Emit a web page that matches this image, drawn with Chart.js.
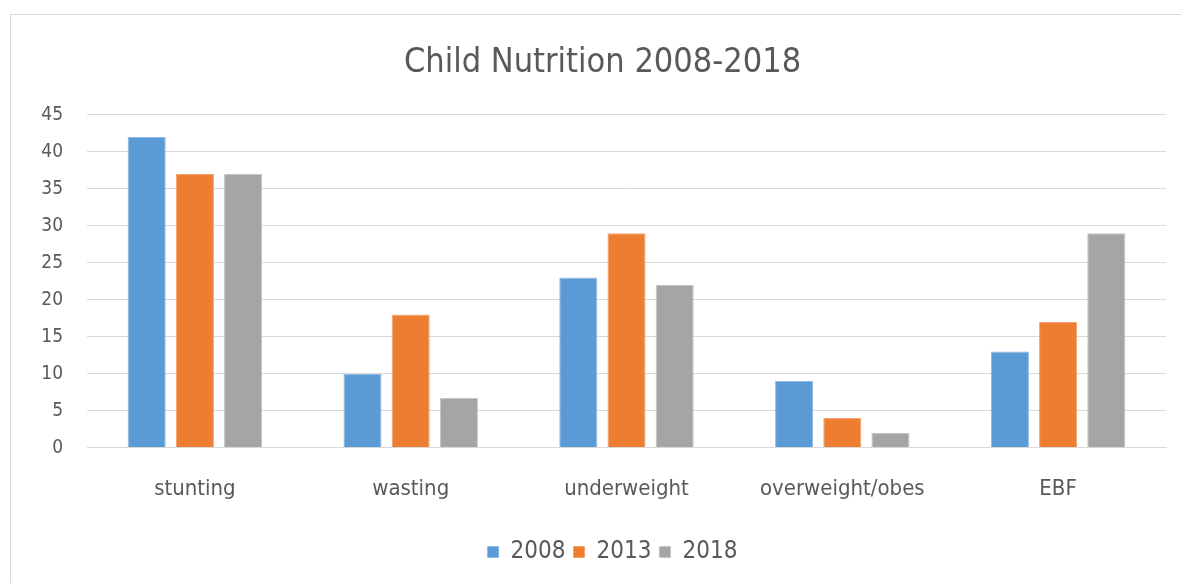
<!DOCTYPE html>
<html>
<head>
<meta charset="utf-8">
<script src="https://cdn.jsdelivr.net/npm/chart.js@4"></script>
<style>
  html, body { margin: 0; padding: 0; background: #fff; }
  #frame { position: absolute; left: 10px; top: 14px; width: 1180px; height: 580px; border: 1px solid #d9d9d9; box-sizing: border-box; }
  #wrap { position: absolute; left: 11px; top: 15px; width: 1170px; height: 568px; }
</style>
</head>
<body>
<div id="frame"></div>
<div id="wrap"><canvas id="c"></canvas></div>
<script>
const categories = ["stunting", "wasting", "underweight", "overweight/obes", "EBF"];
const seriesNames = ["2008", "2013", "2018"];
const values2008 = [42, 10, 23, 9, 13];
const values2013 = [37, 18, 29, 4, 17];
const values2018 = [37, 6.7, 22, 2, 29];
const yTicks = [0, 5, 10, 15, 20, 25, 30, 35, 40, 45];
const colors = ["#5B9BD5", "#ED7D31", "#A5A5A5"];
const borders = ["#8DB9E6", "#F4A26E", "#C4C4C4"];

const FONT = "'DejaVu Sans Condensed', 'Noto Sans', sans-serif";
const TXT = "#595959";

const data = {
  labels: categories,
  datasets: [values2008, values2013, values2018].map((v, i) => ({
    label: seriesNames[i],
    data: v,
    backgroundColor: colors[i],
    borderColor: borders[i],
    borderWidth: 1,
    categoryPercentage: 0.67,
    barPercentage: 0.79
  }))
};

const shiftPlugin = {
  id: "shiftBoxes",
  afterLayout(chart) {
    if (chart.titleBlock) { chart.titleBlock.left += 14; chart.titleBlock.right += 14; }
    if (chart.legend) { chart.legend.left += 24; chart.legend.right += 24; }
  }
};

new Chart(document.getElementById("c"), {
  type: "bar",
  data,
  plugins: [shiftPlugin],
  options: {
    responsive: true,
    maintainAspectRatio: false,
    animation: false,
    layout: { padding: { left: 0, right: 15, top: 0, bottom: 9 } },
    plugins: {
      title: {
        display: true,
        text: "Child Nutrition 2008-2018",
        color: TXT,
        font: { family: FONT, size: 34, weight: "normal" },
        padding: { top: 28, bottom: 31 }
      },
      legend: {
        position: "bottom",
        labels: {
          color: TXT,
          font: { family: FONT, size: 24 },
          boxWidth: 11,
          boxHeight: 11,
          padding: 8
        }
      },
      tooltip: { enabled: false }
    },
    scales: {
      x: {
        grid: { display: false, drawTicks: false },
        border: { display: true, color: "#d9d9d9", width: 1 },
        afterFit: (axis) => { axis.height += 2; },
        ticks: { color: TXT, font: { family: FONT, size: 22 }, padding: 28, maxRotation: 0 }
      },
      y: {
        min: 0,
        max: 45,
        afterBuildTicks: (axis) => { axis.ticks = yTicks.map(v => ({ value: v })); },
        afterFit: (axis) => { axis.width = 76; },
        grid: { color: "#d9d9d9", lineWidth: 1, drawTicks: false },
        border: { display: false },
        ticks: { color: TXT, font: { family: FONT, size: 19 }, padding: 24 }
      }
    }
  }
});
</script>
</body>
</html>
